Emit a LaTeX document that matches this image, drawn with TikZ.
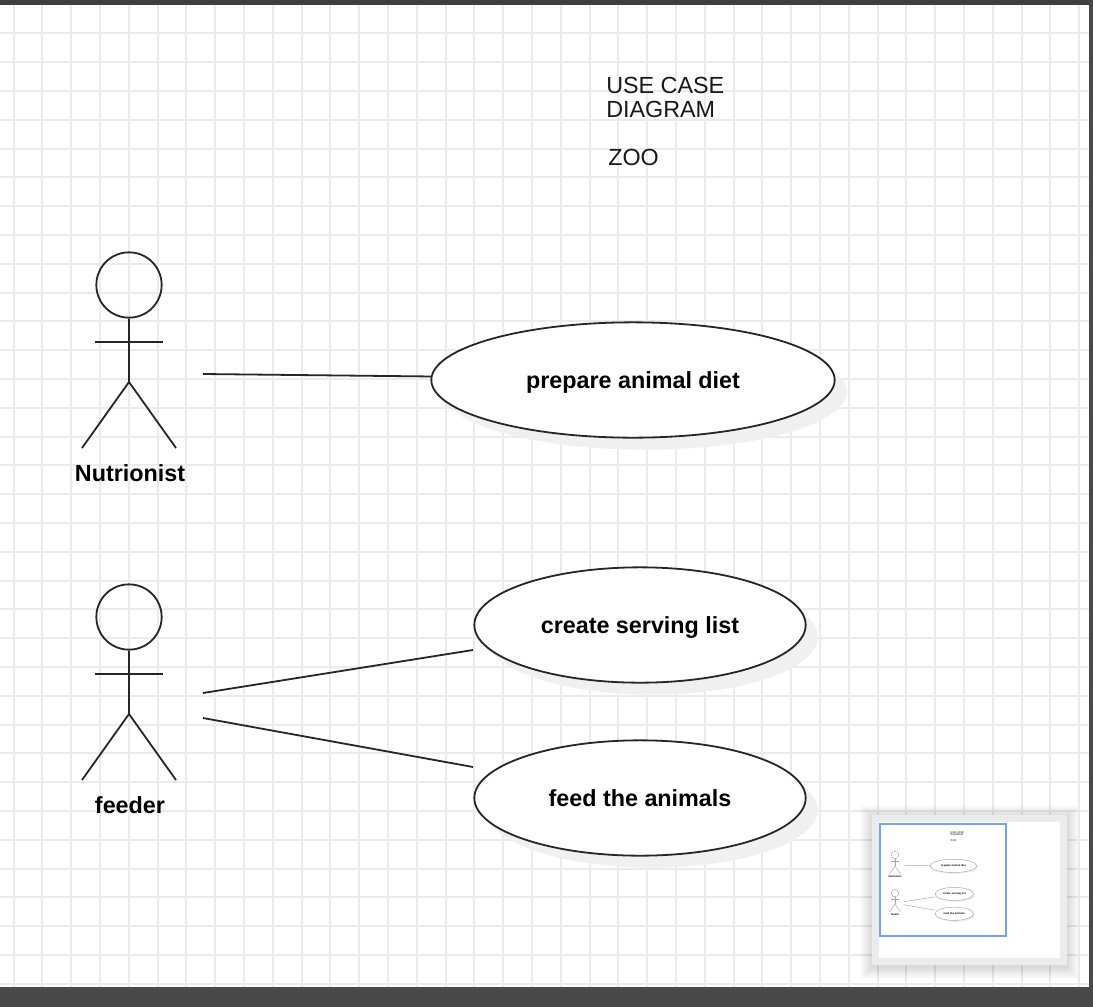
\documentclass[tikz,border=0pt]{standalone}
\usepackage{fontspec}
\setmainfont{Liberation Sans}
\usetikzlibrary{shapes.geometric,shadows}
\definecolor{gridgray}{HTML}{EBEBEB}
\definecolor{barcolor}{HTML}{48494B}
\definecolor{topbar}{HTML}{3C4043}
\definecolor{panelgray}{HTML}{ECECEC}
\definecolor{frameblue}{HTML}{6FA5F2}
\tikzset{
  stroke/.style={draw=black!85, line width=1.35pt},
  every node/.append style={transform shape},
  usecase/.style={ellipse, stroke, fill=white, inner sep=0pt, minimum height=86.5pt, text depth=0pt,
    font=\fontsize{17.5}{21}\selectfont\bfseries,
    general shadow={fill=black!6, draw=none, shadow xshift=9pt*\ucshadow, shadow yshift=-9pt*\ucshadow}},
  actorname/.style={font=\fontsize{17.5}{21}\selectfont\bfseries},
  titletext/.style={anchor=north west, inner sep=0pt, align=left, text=black!90,
    font=\fontsize{17.5}{18}\selectfont},
  pics/actor/.style={code={
    \node [circle, stroke, minimum size=49pt, inner sep=0pt] (-head) at (0,0) {};
    \draw [stroke] (-head.south) -- (0,97);
    \draw [stroke] (-34,57) -- (34,57);
    \draw [stroke] (-47,163) -- (0,97) -- (47,163);
  }}
}
\newcommand{\ucshadow}{1}
% the whole drawing, used full size and again in the small overview
\newcommand{\zoodiagram}{
\node [titletext] (title) at (606,77) {USE CASE\\DIAGRAM};
\node [titletext] (zoo) at (608,149) {ZOO};
\pic (nutrionist) at (129,285) {actor};
\node [actorname] (nutrionistname) at (130,473) {Nutrionist};
\pic (feeder) at (129,617) {actor};
\node [actorname] (feedername) at (130,805) {feeder};
\node [usecase, minimum width=302.5pt] (prepare) at (633,380) {prepare animal diet};
\node [usecase, minimum width=248.5pt] (create) at (640,625) {create serving list};
\node [usecase, minimum width=248.5pt] (feed) at (640,798) {feed the animals};
\coordinate (nutrionistend) at (203,374);
\coordinate (feederup) at (203,693);
\coordinate (feederdown) at (203,718);
\coordinate (createend) at (473,650);
\coordinate (feedend) at (473,767);
\draw [stroke] (nutrionistend) -- (prepare.179);
\draw [stroke] (feederup) -- (createend);
\draw [stroke] (feederdown) -- (feedend);
}
\begin{document}
\begin{tikzpicture}[x=0.75pt,y=-0.75pt]
\useasboundingbox (0,0) rectangle (1093,1007);
\fill [white] (0,0) rectangle (1093,1007);
% grid
\foreach \i in {0,...,37}
  \draw [gridgray, line width=1.1pt] ({round(13.5+28.8*\i)},0) -- ({round(13.5+28.8*\i)},1007);
\foreach \i in {0,...,33}
  \draw [gridgray, line width=1.1pt] (0,{round(33.4+28.8*\i)}) -- (1093,{round(33.4+28.8*\i)});
% window edges
\fill [topbar] (0,0) rectangle (1093,5);
\fill [barcolor] (1089,0) rectangle (1093,1007);
\fill [barcolor] (0,987) rectangle (1093,1007);
\zoodiagram
% overview panel
\foreach \i in {1,...,12}
  \fill [black, opacity=0.012] ({872-\i},{815-\i+2}) rectangle ({1067+\i},{965+\i+2});
\fill [panelgray] (872,815) rectangle (1067,965);
\fill [white] (879,822) rectangle (1060,958);
\draw [frameblue, line width=0.9pt] (880,824) rectangle (1006,936);
\begin{scope}[shift={(880.04,822.4)}, xscale=0.116, yscale=0.1145,
    stroke/.style={draw=black!35, line width=0.35pt}]
\renewcommand{\ucshadow}{0.115}
\zoodiagram
\end{scope}
\end{tikzpicture}
\end{document}
